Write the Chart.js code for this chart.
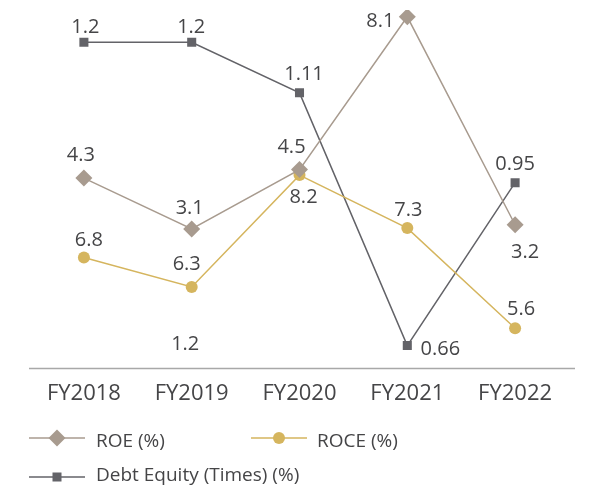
<!DOCTYPE html>
<html>
<head>
<meta charset="utf-8">
<script src="https://cdn.jsdelivr.net/npm/chart.js@4/dist/chart.umd.min.js"></script>
<style>
html,body{margin:0;padding:0;background:#fff;}
#wrap{width:590px;height:485px;}
</style>
</head>
<body>
<div id="wrap"><canvas id="c" width="590" height="485"></canvas></div>
<script>
// ---- data ----
const categories = ['FY2018', 'FY2019', 'FY2020', 'FY2021', 'FY2022'];
const roe = [4.3, 3.1, 4.5, 8.1, 3.2];
const roce = [6.8, 6.3, 8.2, 7.3, 5.6];
const debtEquity = [1.2, 1.2, 1.11, 0.66, 0.95];
const seriesNames = ['ROE (%)', 'ROCE (%)', 'Debt Equity (Times) (%)'];
// stray value label shown in the original under FY2019
const extraLabels = [{ category: 'FY2019', text: '1.2' }];

// ---- styles ----
const COL_ROE = '#a89b8f';
const COL_ROCE = '#d5b55e';
const COL_DEBT = '#636368';
const TEXT = '#454547';
const FONT = "'Open Sans', 'DejaVu Sans', sans-serif";

// label offsets (dx, dy of text centre relative to point)
const labelOffsets = [
  [[-3, -24], [-2, -22], [-8, -24], [-27, 3], [10, 26]],
  [[5, -19], [-5, -24], [4, 21], [1, -19], [6, -20]],
  [[1.5, -16], [-0.5, -16], [4.5, -19.5], [33, 2.5], [0, -19.5]]
];

const valueLabels = {
  id: 'valueLabels',
  afterDatasetsDraw(chart) {
    const ctx = chart.ctx;
    ctx.save();
    ctx.font = '20px ' + FONT;
    ctx.fillStyle = TEXT;
    ctx.textAlign = 'center';
    ctx.textBaseline = 'alphabetic';
    chart.data.datasets.forEach((ds, i) => {
      const meta = chart.getDatasetMeta(i);
      meta.data.forEach((pt, j) => {
        const off = labelOffsets[i][j];
        ctx.fillText(String(ds.data[j]), pt.x + off[0], pt.y + off[1] + 7);
      });
    });
    const xs = chart.scales.x;
    extraLabels.forEach(l => {
      const x = xs.getPixelForValue(categories.indexOf(l.category));
      ctx.fillText(l.text, x - 6.5, chart.chartArea.bottom - 25.5 + 7);
    });
    ctx.restore();
  }
};

const axisLine = {
  id: 'axisLine',
  beforeDatasetsDraw(chart) {
    const ctx = chart.ctx;
    const a = chart.chartArea;
    ctx.save();
    ctx.strokeStyle = '#a8a8a8';
    ctx.lineWidth = 1.5;
    ctx.beginPath();
    ctx.moveTo(a.left - 1, a.bottom);
    ctx.lineTo(a.right + 6, a.bottom);
    ctx.stroke();
    ctx.restore();
  }
};

function drawMarker(ctx, style, x, y, color) {
  ctx.fillStyle = color;
  ctx.beginPath();
  if (style === 'rectRot') {
    const r = 8.5;
    ctx.moveTo(x, y - r); ctx.lineTo(x + r, y); ctx.lineTo(x, y + r); ctx.lineTo(x - r, y);
    ctx.closePath(); ctx.fill();
  } else if (style === 'circle') {
    ctx.arc(x, y, 6, 0, Math.PI * 2); ctx.fill();
  } else {
    ctx.fillRect(x - 4.5, y - 4.5, 9, 9);
  }
}

const customLegend = {
  id: 'customLegend',
  afterDraw(chart) {
    const ctx = chart.ctx;
    const items = [
      { x: 29, y: 438, tx: 96 },
      { x: 251, y: 438, tx: 317 },
      { x: 29, y: 477, tx: 96 }
    ];
    ctx.save();
    chart.data.datasets.forEach((ds, i) => {
      const it = items[i];
      ctx.strokeStyle = ds.borderColor;
      ctx.lineWidth = 1.5;
      ctx.beginPath();
      ctx.moveTo(it.x, it.y);
      ctx.lineTo(it.x + 56, it.y);
      ctx.stroke();
      drawMarker(ctx, ds.pointStyle, it.x + 28, it.y, ds.borderColor);
      ctx.font = '19px ' + FONT;
      ctx.fillStyle = TEXT;
      ctx.textAlign = 'left';
      ctx.textBaseline = 'alphabetic';
      ctx.fillText(ds.label, it.tx, it.y + (i === 2 ? 3.5 : 8.5));
    });
    ctx.restore();
  }
};

new Chart(document.getElementById('c'), {
  type: 'line',
  data: {
    labels: categories,
    datasets: [
      { label: seriesNames[0], data: roe, yAxisID: 'yRoe', borderColor: COL_ROE, backgroundColor: COL_ROE,
        pointBackgroundColor: COL_ROE, pointBorderColor: COL_ROE, pointStyle: 'rectRot', pointRadius: 8.5,
        pointBorderWidth: 0, borderWidth: 1.5, tension: 0 },
      { label: seriesNames[1], data: roce, yAxisID: 'yRoce', borderColor: COL_ROCE, backgroundColor: COL_ROCE,
        pointBackgroundColor: COL_ROCE, pointBorderColor: COL_ROCE, pointStyle: 'circle', pointRadius: 6,
        pointBorderWidth: 0, borderWidth: 1.5, tension: 0 },
      { label: seriesNames[2], data: debtEquity, yAxisID: 'yDebt', borderColor: COL_DEBT, backgroundColor: COL_DEBT,
        pointBackgroundColor: COL_DEBT, pointBorderColor: COL_DEBT, pointStyle: 'rect', pointRadius: 6.4,
        pointBorderWidth: 0, borderWidth: 1.5, tension: 0 }
    ]
  },
  options: {
    responsive: false,
    animation: false,
    layout: { padding: { left: 30, right: 21, top: 10, bottom: 66 } },
    plugins: { legend: { display: false }, tooltip: { enabled: false } },
    scales: {
      x: {
        offset: true,
        grid: { display: false, drawTicks: false },
        border: { display: false },
        ticks: { color: TEXT, font: { family: FONT, size: 22 }, padding: 12, maxRotation: 0 }
      },
      yRoe: { display: false, min: -0.19, max: 8.26 },
      yRoce: { display: false, min: 4.914, max: 11.004 },
      yDebt: { display: false, min: 0.619, max: 1.2575 }
    }
  },
  plugins: [axisLine, valueLabels, customLegend]
});
</script>
</body>
</html>
